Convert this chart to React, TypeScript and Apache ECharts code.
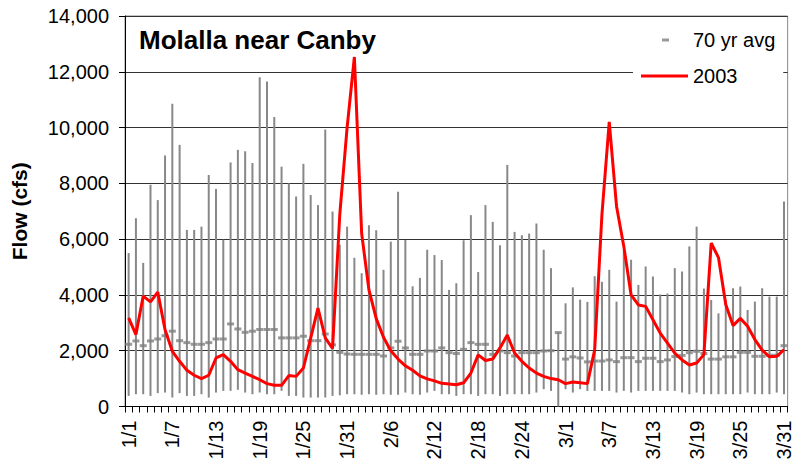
import React, { useEffect, useRef } from "react";
import * as echarts from "echarts";

// Days per month for the Jan–Mar period (Feb 29 included in the long-term record)
const monthDays = [31, 29, 31];
const categories: string[] = [];
monthDays.forEach((n, m) => {
  for (let d = 1; d <= n; d++) categories.push(`${m + 1}/${d}`);
});

const yTicks = [0, 2000, 4000, 6000, 8000, 10000, 12000, 14000];

// Historic daily high (top of grey bar)
const highFlow = [
  5500, 6750, 5150, 7950, 7400, 9000, 10850, 9380, 6330, 6330, 6450, 8300, 7800, 5980, 8750,
  9200, 9150, 8730, 11800, 11650, 10380, 8600, 8000, 7530, 8700, 7580, 7220, 9930, 6990, 5800, 6450,
  5330, 4780, 6500, 6320, 4900, 5910, 7700, 5970, 4310, 4610, 5620, 5430, 5250, 4180, 4420,
  5960, 6860, 4820, 7220, 6620, 5780, 8660, 6260, 6140, 6200, 6560, 5620, 4960, 2660,
  3700, 4270, 3830, 3750, 4670, 4470, 4900, 3760, 5600, 5260, 4360, 5020, 4660, 4020, 4050,
  4960, 4840, 5740, 6450, 4230, 3820, 3340, 3820, 4240, 4300, 3460, 3760, 4240, 3940, 3940, 7350,
];

// Historic daily low (bottom of grey bar)
const lowFlow = [
  380, 440, 440, 380, 480, 500, 320, 480, 380, 380, 440, 320, 500, 560, 560,
  600, 500, 440, 500, 440, 440, 560, 380, 380, 320, 320, 320, 320, 380, 400, 440,
  440, 420, 440, 420, 440, 420, 420, 500, 440, 420, 500, 560, 440, 440, 380,
  440, 440, 380, 440, 440, 380, 440, 440, 440, 440, 500, 620, 560, 0,
  620, 500, 620, 560, 560, 560, 560, 500, 560, 500, 560, 560, 560, 560, 560,
  560, 500, 440, 500, 440, 440, 440, 440, 440, 440, 500, 440, 440, 440, 500, 440,
];

// 70 year average
const avgFlow = [
  2230, 2350, 2180, 2350, 2420, 2540, 2700, 2360, 2290, 2230, 2230, 2290, 2420, 2420, 2960,
  2780, 2660, 2700, 2760, 2760, 2760, 2460, 2460, 2460, 2520, 2360, 2360, 2600, 2210, 1940, 1880,
  1870, 1870, 1870, 1870, 1810, 2100, 2340, 2100, 1870, 1870, 1990, 1990, 2100, 1930, 1900,
  2050, 2290, 2230, 2230, 1870, 1990, 1930, 1810, 1930, 1930, 1930, 1990, 2000, 2650,
  1700, 1780, 1740, 1600, 1630, 1630, 1670, 1610, 1750, 1750, 1610, 1730, 1730, 1610, 1670,
  1790, 1830, 1930, 1980, 1900, 1700, 1700, 1780, 1780, 1940, 1940, 1800, 1800, 1840, 1840, 2180,
];

// 2003 daily flow
const flow2003 = [
  3180, 2580, 3960, 3750, 4100, 2750, 1980, 1620, 1300, 1120, 1000, 1120, 1740, 1860, 1620,
  1320, 1200, 1080, 960, 820, 760, 760, 1110, 1080, 1380, 2450, 3530, 2460, 2080, 6900, 10000,
  12530, 6200, 4180, 3150, 2480, 2000, 1700, 1460, 1300, 1100, 990, 920, 830, 810, 780,
  850, 1200, 1850, 1650, 1700, 2100, 2560, 1920, 1620, 1380, 1200, 1080, 1000, 960,
  820, 880, 850, 820, 2030, 6900, 10200, 7180, 5740, 4000, 3640, 3590, 3110, 2630, 2270,
  1910, 1670, 1490, 1560, 1860, 5860, 5340, 3660, 2900, 3160, 2880, 2400, 2020, 1780, 1800, 2040,
];

const FONT = "'Liberation Sans', Arial, Helvetica, sans-serif";

export default function App() {
  const ref = useRef<HTMLDivElement>(null);
  useEffect(() => {
    const chart = echarts.init(ref.current as HTMLDivElement, null, { renderer: "svg" });
    const rangeData = categories.map((_, i) => [i, lowFlow[i], highFlow[i]]);
    chart.setOption({
      animation: false,
      backgroundColor: "#fff",
      textStyle: { fontFamily: FONT },
      title: {
        text: "Molalla near Canby",
        left: 139,
        top: 27,
        padding: 0,
        textStyle: { fontSize: 26, fontWeight: "bold", color: "#000", fontFamily: FONT },
      },
      legend: [
        {
          data: ["70 yr avg"],
          orient: "vertical",
          left: 633,
          top: 18,
          padding: [12, 8, 45, 29],
          backgroundColor: "#fff",
          icon: "rect",
          itemWidth: 7,
          itemHeight: 3,
          textStyle: { fontSize: 20, color: "#000", fontFamily: FONT, padding: [0, 0, 0, 19] },
        },
        {
          data: ["2003"],
          orient: "vertical",
          left: 641,
          top: 66,
          padding: 0,
          icon: "rect",
          itemWidth: 47,
          itemHeight: 3,
          textStyle: { fontSize: 20, color: "#000", fontFamily: FONT },
        },
      ],
      grid: {
        left: 125,
        right: 5,
        top: 16,
        bottom: 62.5,
        show: true,
        borderColor: "#888",
        borderWidth: 1,
        containLabel: false,
      },
      xAxis: {
        type: "category",
        data: categories,
        boundaryGap: true,
        axisLine: { show: true, lineStyle: { color: "#000", width: 1 } },
        axisTick: { show: true, interval: 0, length: 6, lineStyle: { color: "#000" } },
        axisLabel: {
          interval: 5,
          rotate: 90,
          fontSize: 20,
          color: "#000",
          margin: 14,
          fontFamily: FONT,
        },
        splitLine: { show: false },
      },
      yAxis: {
        type: "value",
        min: yTicks[0],
        max: yTicks[yTicks.length - 1],
        interval: 2000,
        name: "Flow (cfs)",
        nameLocation: "middle",
        nameGap: 95,
        nameRotate: 90,
        nameTextStyle: { fontSize: 21, fontWeight: "bold", color: "#000", fontFamily: FONT },
        axisLine: { show: true, lineStyle: { color: "#000", width: 1 } },
        axisTick: { show: true, length: 6, lineStyle: { color: "#000" } },
        axisLabel: {
          fontSize: 20,
          color: "#000",
          margin: 16,
          fontFamily: FONT,
          formatter: (v: number) => v.toLocaleString("en-US"),
        },
        splitLine: { show: true, lineStyle: { color: "#333", width: 1 } },
      },
      series: [
        {
          name: "range",
          type: "custom",
          data: rangeData,
          encode: { x: 0, y: [1, 2] },
          renderItem: (params: any, api: any) => {
            const idx = api.value(0);
            const p1 = api.coord([idx, api.value(1)]);
            const p2 = api.coord([idx, api.value(2)]);
            return {
              type: "line",
              shape: { x1: p1[0], y1: p1[1], x2: p2[0], y2: p2[1] },
              style: { stroke: "#888", lineWidth: 2 },
            };
          },
          z: 1,
        },
        {
          name: "70 yr avg",
          type: "scatter",
          data: avgFlow,
          symbol: "rect",
          symbolSize: [7, 3],
          itemStyle: { color: "#808080" },
          z: 2,
        },
        {
          name: "2003",
          type: "line",
          data: flow2003,
          symbol: "none",
          legendIcon: "rect",
          lineStyle: { color: "#ff0000", width: 3 },
          itemStyle: { color: "#ff0000" },
          z: 3,
        },
      ],
    });
    return () => chart.dispose();
  }, []);
  return <div ref={ref} style={{ position: "fixed", left: 0, top: 0, width: 794, height: 469 }} />;
}
